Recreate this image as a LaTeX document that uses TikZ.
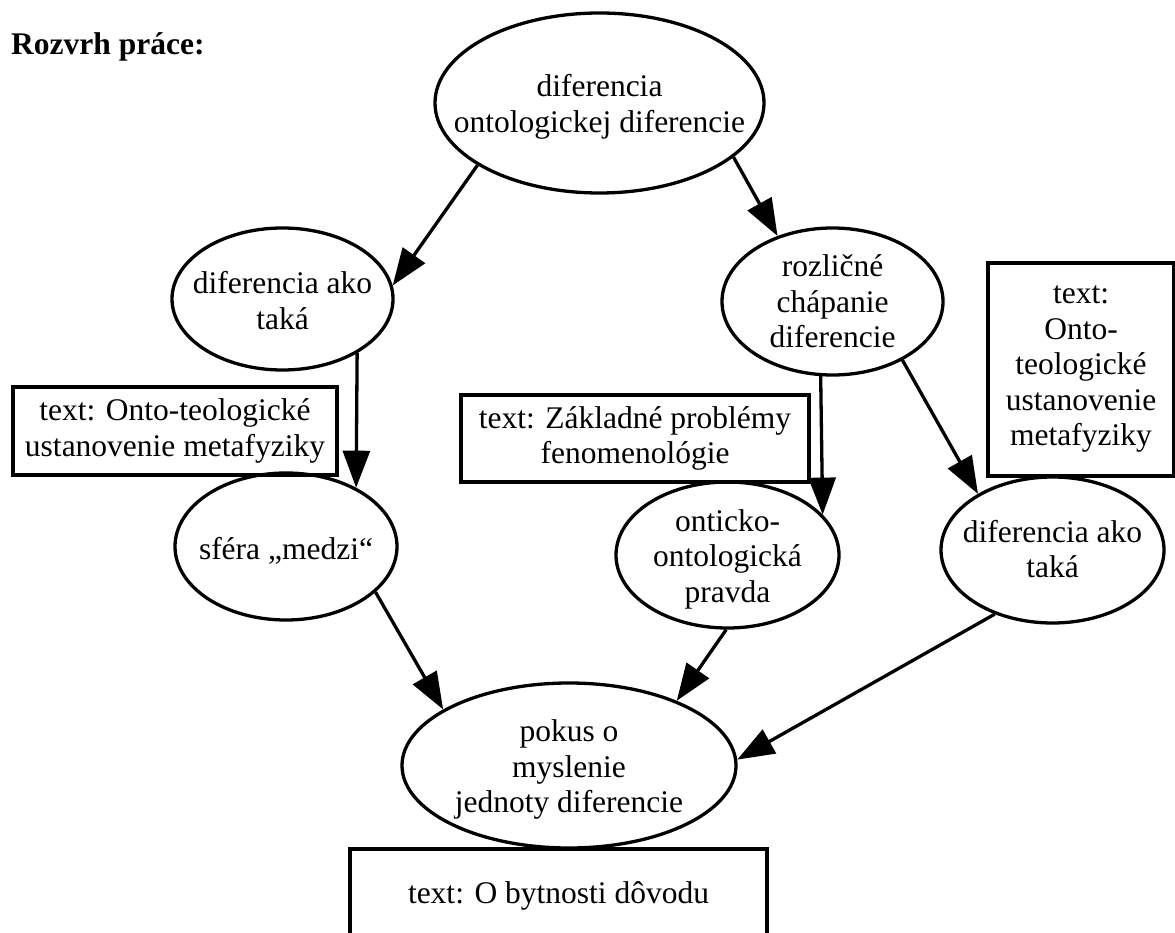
\documentclass[tikz,border=0pt]{standalone}
\usepackage{fontspec}
\setmainfont{Liberation Serif}
\usetikzlibrary{arrows.meta,shapes.geometric}
\begin{document}
\begin{tikzpicture}[x=1pt,y=-1pt,
  every node/.style={font=\fontsize{31.5}{35.5}\selectfont},
  ell/.style={draw, ellipse, line width=3.3pt, inner sep=0pt},
  txt/.style={align=center, inner sep=0pt},
  box/.style={draw, rectangle, line width=3.6pt, align=center, inner sep=0pt},
  arr/.style={line width=3.3pt, -{Triangle[length=37pt,width=27pt]}},
]
\useasboundingbox (0,0) rectangle (1175,933);
\clip (0,0) rectangle (1175,933);

\node[anchor=base west, inner sep=0pt, font=\bfseries\fontsize{31.5}{35.5}\selectfont] (title) at (11,55) {Rozvrh práce:};

\node[ell, minimum width=329pt, minimum height=180pt,
  label={[txt,yshift=-4pt]center:{diferencia\\ontologickej diferencie}}] (T) at (599.5,103) {};
\node[ell, minimum width=221pt, minimum height=142pt,
  label={[txt,yshift=-1.5pt]center:{diferencia ako\\taká}}] (L) at (282.5,299) {};
\node[ell, minimum width=222pt, minimum height=147pt,
  label={[txt,yshift=-4pt]center:{sféra „medzi“}}] (S) at (286,546.5) {};
\node[ell, minimum width=221pt, minimum height=147pt,
  label={[txt]center:{rozličné\\chápanie\\diferencie}}] (R) at (832.5,301.5) {};
\node[ell, minimum width=223pt, minimum height=146pt,
  label={[txt,yshift=-4pt]center:{onticko-\\ontologická\\pravda}}] (O) at (727.5,555) {};
\node[ell, minimum width=223pt, minimum height=146pt,
  label={[txt,yshift=1pt]center:{diferencia ako\\taká}}] (D) at (1052.5,550) {};
\node[ell, minimum width=334pt, minimum height=165pt,
  label={[txt,yshift=-4pt]center:{pokus o\\myslenie\\jednoty diferencie}}] (P) at (569,765.5) {};

\node[box, minimum width=324pt, minimum height=88pt] (B1) at (175,431)
  {text: Onto-teologické\\ustanovenie metafyziky};
\node[box, minimum width=348pt, minimum height=87pt] (B2) at (635,438.5)
  {text: Základné problémy\\fenomenológie};
\node[box, minimum width=186pt, minimum height=213pt] (B3) at (1081,369.5)
  {text:\\Onto-\\teologické\\ustanovenie\\metafyziky};
\node[box, minimum width=417pt, minimum height=93pt] (B4) at (558.5,895.5)
  {text: O bytnosti dôvodu};

\draw[arr] (T.207) -- (L.7);
\draw[arr] (T.338) -- (R.130);
\draw[arr] (L.-36) -- (S.40);
\draw[arr] (R.-99) -- (O.23.5);
\draw[arr] (R.-40) -- (D.143);
\draw[arr] (S.-27) -- (P.156);
\draw[arr] (O.-91) -- (P.31.5);
\draw[arr] (D.228) -- (P.2.5);
\end{tikzpicture}
\end{document}
